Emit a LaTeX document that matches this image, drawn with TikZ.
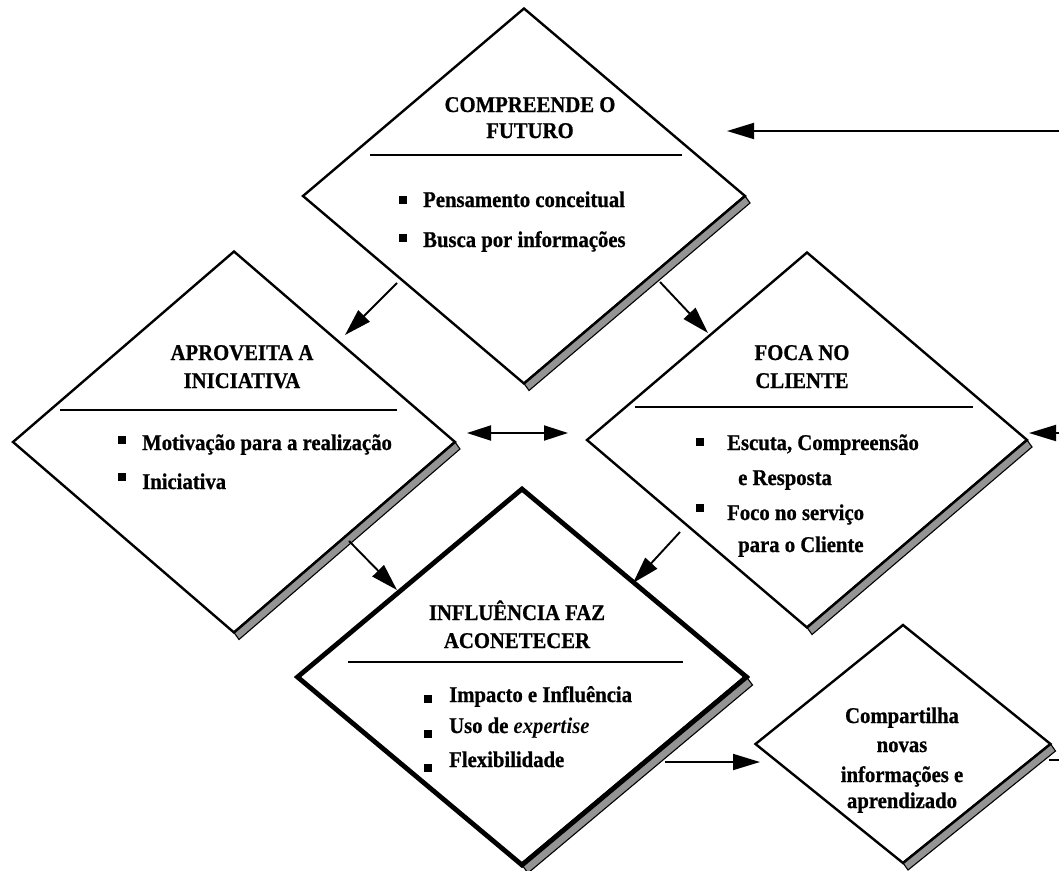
\documentclass[tikz,border=0pt]{standalone}
\usepackage{fontspec}
\setmainfont{Liberation Serif}[FakeStretch=0.92, BoldFeatures={FakeBold=0.8}]
\usetikzlibrary{shapes.geometric,arrows.meta}

\tikzset{
  dia/.style={draw, shape=diamond, inner sep=0pt, outer sep=0pt, line width=2.4pt},
  thickdia/.style={dia, line width=4.8pt},
  band/.style={fill=black!42, draw=black, line width=1.1pt},
  arr/.style={line width=1.9pt, -{Triangle[length=27pt,width=16pt]}},
  dblarr/.style={line width=1.9pt, {Triangle[length=24pt,width=15pt]}-{Triangle[length=24pt,width=15pt]}},
  divider/.style={line width=2pt},
  hd/.style={font=\fontsize{22.5}{26}\selectfont\bfseries, anchor=base, inner sep=0pt},
  itm/.style={font=\fontsize{22.5}{26}\selectfont\bfseries, anchor=base west, inner sep=0pt},
  sq/.style={fill=black, minimum size=7.5pt, inner sep=0pt},
}

\begin{document}
\begin{tikzpicture}[x=1pt, y=-1pt]
\useasboundingbox (0,0) rectangle (1059,870);

% ---------- diamonds ----------
\node[dia, minimum width=442, minimum height=375] (fut) at (524,196) {};
\node[dia, minimum width=442, minimum height=381] (apr) at (234,442) {};
\node[dia, minimum width=440, minimum height=375] (foc) at (807,440) {};
\node[thickdia, minimum width=449, minimum height=376] (inf) at (522,677) {};
\node[dia, minimum width=295, minimum height=238] (com) at (903,744) {};

% shaded bands along the lower right sides
\foreach \d in {fut,apr,foc,com}{
  \draw[band] (\d.east) -- (\d.south) -- ([shift={(5,7)}]\d.south) -- ([shift={(5,7)}]\d.east) -- cycle;
  \draw[line width=2.4pt] (\d.east) -- (\d.south);
}
\draw[band] (inf.east) -- (inf.south) -- ([shift={(6,8)}]inf.south) -- ([shift={(6,8)}]inf.east) -- cycle;
\draw[line width=4.8pt, line cap=round] (inf.east) -- (inf.south);

% ---------- dividers ----------
\draw[divider] (370,155) -- (682,155);
\draw[divider] (60,410) -- (397,410);
\draw[divider] (635,407) -- (973,407);
\draw[divider] (348,662) -- (683,662);

% ---------- texts ----------
\node[hd] (futA) at (530,112) {COMPREENDE O};
\node[hd] (futB) at (530,138) {FUTURO};
\node[sq] (futq1) at (403,200) {};
\node[itm] (fut1) at (423,207) {Pensamento conceitual};
\node[sq] (futq2) at (403,238) {};
\node[itm] (fut2) at (423,247) {Busca por informações};

\node[hd] (aprA) at (242,360) {APROVEITA A};
\node[hd] (aprB) at (242,388) {INICIATIVA};
\node[sq] (aprq1) at (122,440) {};
\node[itm] (apr1) at (142,450) {Motivação para a realização};
\node[sq] (aprq2) at (122,477) {};
\node[itm] (apr2) at (142,489) {Iniciativa};

\node[hd] (focA) at (802,360) {FOCA NO};
\node[hd] (focB) at (802,388) {CLIENTE};
\node[sq] (focq1) at (700,442) {};
\node[itm] (foc1) at (727,450) {Escuta, Compreensão};
\node[itm] (foc2) at (738,485) {e Resposta};
\node[sq] (focq2) at (700,508) {};
\node[itm] (foc3) at (727,520) {Foco no serviço};
\node[itm] (foc4) at (738,552) {para o Cliente};

\node[hd] (infA) at (517,620) {INFLUÊNCIA FAZ};
\node[hd] (infB) at (517,648) {ACONETECER};
\node[sq] (infq1) at (428,699) {};
\node[itm] (inf1) at (449,702) {Impacto e Influência};
\node[sq] (infq2) at (428,734) {};
\node[itm] (inf2) at (449,733) {Uso de \textit{expertise}};
\node[sq] (infq3) at (428,768) {};
\node[itm] (inf3) at (449,767) {Flexibilidade};

\node[hd] (comA) at (902,723) {Compartilha};
\node[hd] (comB) at (902,752) {novas};
\node[hd] (comC) at (902,782) {informações e};
\node[hd] (comD) at (902,808) {aprendizado};

% ---------- connector ends ----------
\coordinate (inTop)  at (1059,131);
\coordinate (inTopE) at (727,131);
\coordinate (f2aS) at (397,283);
\coordinate (f2aE) at (345,335);
\coordinate (f2cS) at (660,282);
\coordinate (f2cE) at (708,333);
\coordinate (lrA) at (467,433);
\coordinate (lrB) at (568,433);
\coordinate (a2iS) at (349,541);
\coordinate (a2iE) at (397,590);
\coordinate (c2iS) at (680,532);
\coordinate (c2iE) at (633,583);
\coordinate (i2sS) at (665,762);
\coordinate (i2sE) at (760,762);
\coordinate (inMid)  at (1059,433);
\coordinate (inMidE) at (1029,433);
\coordinate (outS) at (1049,760);
\coordinate (outE) at (1059,760);

% ---------- connectors ----------
\draw[arr] (inTop) -- (inTopE);
\draw[arr] (f2aS) -- (f2aE);
\draw[arr] (f2cS) -- (f2cE);
\draw[dblarr] (lrA) -- (lrB);
\draw[arr] (a2iS) -- (a2iE);
\draw[arr] (c2iS) -- (c2iE);
\draw[arr] (i2sS) -- (i2sE);
\draw[arr] (inMid) -- (inMidE);
\draw[line width=1.9pt] (outS) -- (outE);
\end{tikzpicture}
\end{document}
